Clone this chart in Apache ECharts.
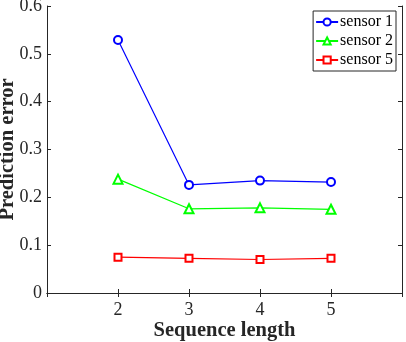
<!DOCTYPE html>
<html style="height: 100%">
    <head>
        <meta charset="utf-8">
    </head>
    <body style="height: 100%; margin: 0">
        <div id="container" style="width:406px;height:342px"></div>
        <script type="text/javascript" src="https://cdn.jsdelivr.net/npm/echarts@6/dist/echarts.min.js"></script>
        <script type="text/javascript">
// sequence lengths and the prediction errors
var seqLen = [2, 3, 4, 5];
var sensor1 = [0.529, 0.226, 0.235, 0.232];
var sensor2 = [0.238, 0.176, 0.178, 0.175];
var sensor5 = [0.075, 0.0725, 0.070, 0.0725];
var xTicks = [2, 3, 4, 5];

function pairs(ys) {
    return seqLen.map(function (x, i) { return [x, ys[i]]; });
}

var dom = document.getElementById("container");
var myChart = echarts.init(dom);
var serif = 'Liberation Serif';
var axisCol = '#262626';

var hideEdge = function (v) {
    return xTicks.indexOf(v) >= 0 ? String(v) : '';
};

var option = {
    animation: false,
    backgroundColor: '#fff',
    grid: { left: 47, right: 4, top: 6, bottom: 49, outerBoundsMode: 'none', containLabel: false },
    legend: {
        orient: 'vertical',
        right: 10,
        top: 11,
        padding: [3, 3, 3, 2],
        itemGap: 3,
        itemWidth: 22,
        itemHeight: 9,
        borderColor: axisCol,
        borderWidth: 1,
        backgroundColor: '#fff',
        textStyle: { fontFamily: serif, fontSize: 16, color: '#000', padding: [0, 0, 0, -3] },
        data: ['sensor 1', 'sensor 2', 'sensor 5']
    },
    xAxis: [{
        type: 'value', min: 1, max: 6, interval: 1,
        name: 'Sequence length', nameLocation: 'middle', nameGap: 27, nameMoveOverlap: false,
        nameTextStyle: { fontFamily: serif, fontSize: 20.5, fontWeight: 'bold', color: axisCol },
        axisLine: { lineStyle: { color: axisCol } },
        axisTick: { inside: true, length: 4, lineStyle: { color: axisCol } },
        axisLabel: { formatter: hideEdge, fontFamily: serif, fontSize: 18, color: axisCol, margin: 8 },
        splitLine: { show: false }
    }, {
        type: 'value', min: 1, max: 6, interval: 1, position: 'top',
        axisLine: { lineStyle: { color: axisCol } },
        axisTick: { inside: true, length: 4, lineStyle: { color: axisCol } },
        axisLabel: { show: false },
        splitLine: { show: false }
    }],
    yAxis: [{
        type: 'value', min: 0, max: 0.6, interval: 0.1,
        name: 'Prediction error', nameLocation: 'middle', nameGap: 29, nameMoveOverlap: false,
        nameTextStyle: { fontFamily: serif, fontSize: 20.5, fontWeight: 'bold', color: axisCol },
        axisLine: { show: true, lineStyle: { color: axisCol } },
        axisTick: { show: true, inside: true, length: 4, lineStyle: { color: axisCol } },
        axisLabel: {
            formatter: function (v) { return +v.toFixed(1) + ''; },
            fontFamily: serif, fontSize: 18, color: axisCol, margin: 5
        },
        splitLine: { show: false }
    }, {
        type: 'value', min: 0, max: 0.6, interval: 0.1, position: 'right',
        axisLine: { show: true, lineStyle: { color: axisCol } },
        axisTick: { show: true, inside: true, length: 4, lineStyle: { color: axisCol } },
        axisLabel: { show: false },
        splitLine: { show: false }
    }],
    series: [{
        name: 'sensor 1', type: 'line', data: pairs(sensor1),
        symbol: 'emptyCircle', symbolSize: 8,
        itemStyle: { color: '#0000ff', borderWidth: 1.2 },
        lineStyle: { color: '#0000ff', width: 1.2 }
    }, {
        name: 'sensor 2', type: 'line', data: pairs(sensor2),
        symbol: 'emptyTriangle', symbolSize: 9,
        itemStyle: { color: '#00ff00', borderWidth: 1.2 },
        lineStyle: { color: '#00ff00', width: 1.2 }
    }, {
        name: 'sensor 5', type: 'line', data: pairs(sensor5),
        symbol: 'emptyRect', symbolSize: 7,
        itemStyle: { color: '#ff0000', borderWidth: 1.2 },
        lineStyle: { color: '#ff0000', width: 1.2 }
    }]
};
myChart.setOption(option);
        </script>
    </body>
</html>
